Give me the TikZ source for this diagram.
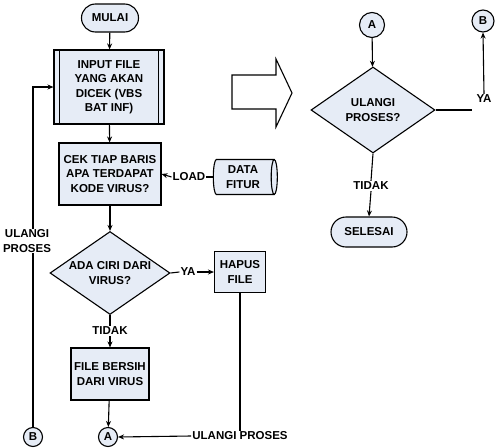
\documentclass[tikz,border=0pt]{standalone}
\usepackage{fontspec}
\setmainfont{Liberation Sans}
\usetikzlibrary{shapes.geometric,shapes.misc,arrows.meta}
\definecolor{boxfill}{HTML}{E6ECF6}
\tikzset{
  base/.style={draw, line width=1.1pt, fill=boxfill, align=center, inner sep=1pt,
    font=\bfseries\fontsize{11.5}{14.5}\selectfont},
  procbox/.style={base, rectangle},
  termbox/.style={base, rounded rectangle},
  decbox/.style={base, diamond, inner sep=0pt},
  conn/.style={base, circle, inner sep=0pt},
  lbl/.style={font=\bfseries\fontsize{11.5}{14.5}\selectfont, align=center, inner sep=1pt},
  line/.style={line width=1.1pt},
  arr/.style={line width=1.1pt, -{Stealth[length=6pt,width=5pt]}}
}
\begin{document}
\begin{tikzpicture}[x=1pt,y=-1pt]
\useasboundingbox (0,0) rectangle (495,447);
% left column
\node[termbox, minimum width=59, minimum height=28] (mulai) at (110,18) {MULAI};
\node[procbox, minimum width=110, minimum height=74] (input) at (109,87) {INPUT FILE\\YANG AKAN\\DICEK (VBS\\BAT INF)};
\draw[line] ([xshift=6pt]input.north west) -- ([xshift=6pt]input.south west);
\draw[line] ([xshift=-6pt]input.north east) -- ([xshift=-6pt]input.south east);
\node[procbox, minimum width=102, minimum height=62] (cek) at (110,174) {CEK TIAP BARIS\\APA TERDAPAT\\KODE VIRUS?};
\node[base, cylinder, aspect=0.25, minimum width=35, minimum height=64, inner sep=1pt,
  cylinder uses custom fill, cylinder body fill=boxfill, cylinder end fill=boxfill] (data) at (243,177) {DATA\\FITUR};
\node[lbl] (load) at (189,177) {LOAD};
\node[decbox, aspect=1.45, minimum width=120, minimum height=83] (ada) at (110,273) {ADA CIRI DARI\\VIRUS?};
\node[procbox, minimum width=51, minimum height=41] (hapus) at (240,272) {HAPUS\\FILE};
\node[lbl] (ya1) at (188,272) {YA};
\node[lbl] (tidak1) at (110,331) {TIDAK};
\node[procbox, minimum width=78, minimum height=52] (bersih) at (110,374) {FILE BERSIH\\DARI VIRUS};
\node[conn, minimum size=19] (bA) at (108,437) {A};
\node[conn, minimum size=19] (bB) at (33,437) {B};
\node[lbl] (ul2) at (240,436) {ULANGI PROSES};

\draw[arr] (mulai) -- (input);
\draw[arr] (input) -- (cek);
\draw[line] (data.west) -- (load.east);
\draw[arr] (load.west) -- (cek.east);
\draw[arr] (cek) -- (ada);
\draw[line] (ada.east) -- (ya1.west);
\draw[arr] (ya1.east) -- (hapus.west);
\draw[line] (ada.south) -- (tidak1.north);
\draw[arr] (tidak1.south) -- (bersih.north);
\draw[arr] (bersih) -- (bA);
\draw[line] (hapus.south) -- (ul2.north);
\draw[arr] (ul2.west) -- (bA.east);
\draw[arr] (bB.north) |- (input.west);
\node[lbl, fill=white] (ul1) at (27,241) {ULANGI\\PROSES};

% block arrow
\draw[line, line join=miter] (232,75) -- (276,75) -- (276,59) -- (292,93) -- (276,127) -- (276,109) -- (232,109) -- cycle;

% right column
\node[conn, minimum size=25] (rA) at (372,25) {A};
\node[conn, minimum size=22] (rB) at (483,21) {B};
\node[decbox, aspect=1.44, minimum width=124, minimum height=86] (d2) at (373,110) {ULANGI\\PROSES?};
\node[lbl] (ya2) at (484,99) {YA};
\coordinate (yac) at (472,110);
\node[lbl] (tidak2) at (371,186) {TIDAK};
\node[termbox, minimum width=78, minimum height=30] (selesai) at (369,232) {SELESAI};

\draw[arr] (rA) -- (d2);
\draw[line] (d2.east) -- (yac);
\draw[arr] (ya2.north) -- (rB.south);
\draw[line] (d2.south) -- (tidak2.north);
\draw[arr] (tidak2.south) -- (selesai.north);
\end{tikzpicture}
\end{document}
